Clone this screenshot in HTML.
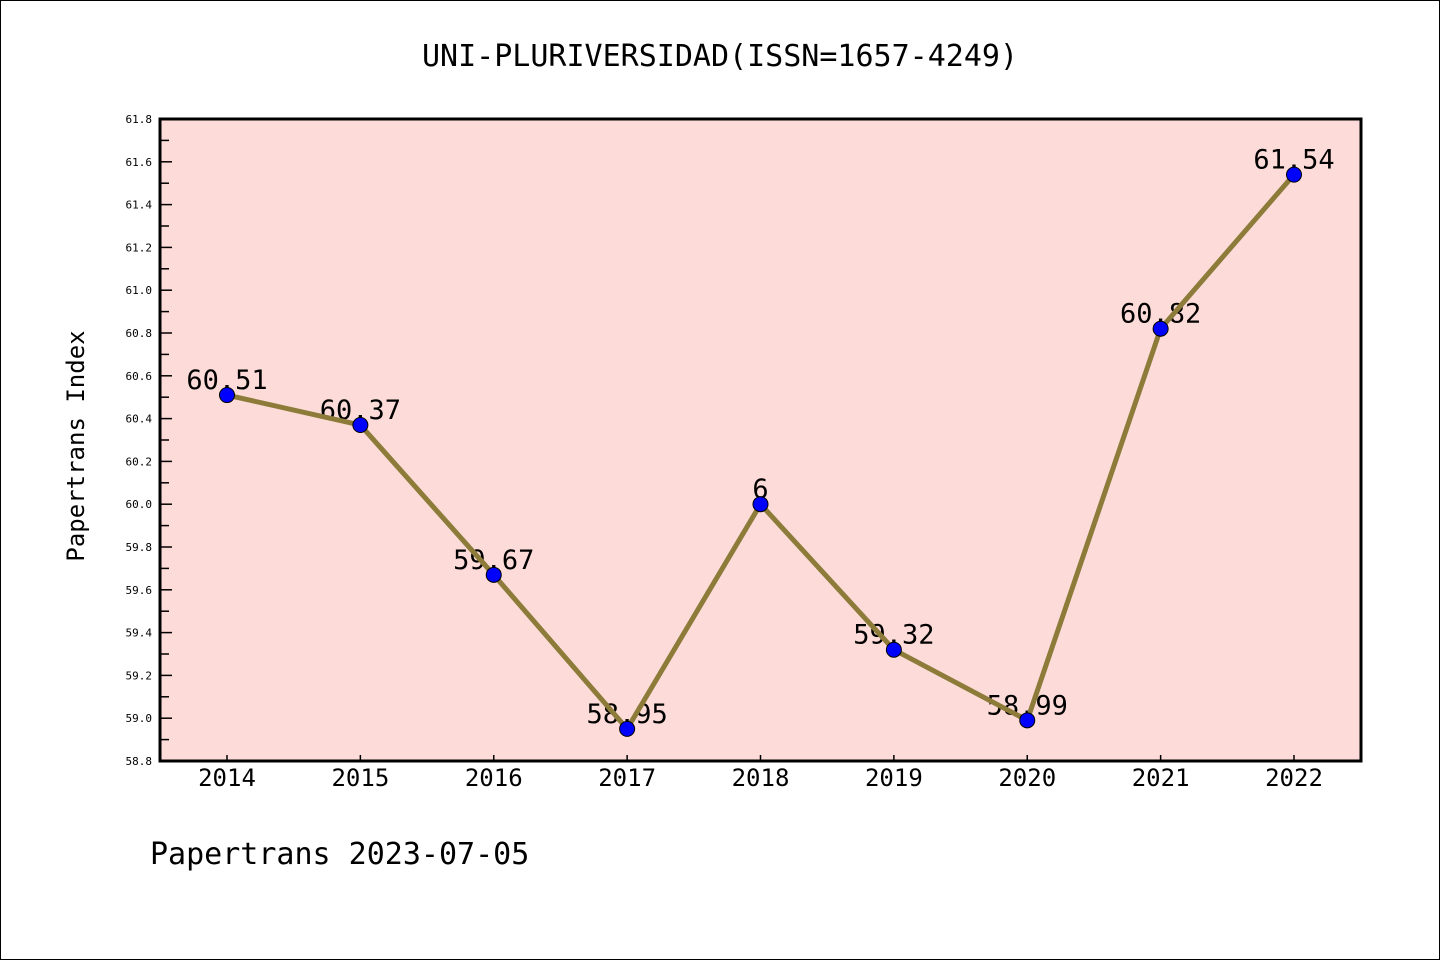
<!DOCTYPE html>
<html><head><meta charset="utf-8"><style>
html,body{margin:0;padding:0;background:#fff}
svg{display:block}
text{font-family:"WenQuanYi Zen Hei","DejaVu Sans Mono",monospace}
</style></head><body>
<svg id="chart" width="1440" height="960" xmlns="http://www.w3.org/2000/svg">
<rect x="0.5" y="0.5" width="1439" height="959" fill="#fff" stroke="#000"/>
<text x="720" y="66" font-size="30" text-anchor="middle">UNI-PLURIVERSIDAD(ISSN=1657-4249)</text>
<rect x="160" y="119" width="1201" height="642" fill="#fddbd8"/>
<g id="ticks"></g>
<g id="labels"></g>
<g id="series"></g>
<rect x="160" y="119" width="1201" height="642" fill="none" stroke="#000" stroke-width="3"/>
<text transform="translate(84,446) rotate(-90)" font-size="24" text-anchor="middle">Papertrans Index</text>
<text x="150" y="864" font-size="30">Papertrans 2023-07-05</text>
</svg>
<script>
const years=["2014","2015","2016","2017","2018","2019","2020","2021","2022"];
const values=[60.51,60.37,59.67,58.95,60.0,59.32,58.99,60.82,61.54];
const valueLabels=["60.51","60.37","59.67","58.95","6","59.32","58.99","60.82","61.54"];
const yTicks=["58.8","59.0","59.2","59.4","59.6","59.8","60.0","60.2","60.4","60.6","60.8","61.0","61.2","61.4","61.6","61.8"];
const yMin=58.8,yMax=61.8;
const NS="http://www.w3.org/2000/svg";
const X=i=>227+i*(1294-227)/(years.length-1);
const Y=v=>761-(v-yMin)/(yMax-yMin)*642;
function mk(t,a,p){const e=document.createElementNS(NS,t);for(const k in a)e.setAttribute(k,a[k]);p.appendChild(e);return e;}
const tk=document.getElementById('ticks'),lb=document.getElementById('labels'),sr=document.getElementById('series');
yTicks.forEach((s,i)=>{const v=parseFloat(s),y=Y(v);
 const l=mk('line',{x1:160,x2:172,y1:y,y2:y,stroke:'#000','stroke-width':1.5},tk);
 
 
 const t=mk('text',{x:152,y:y+4,'font-size':11,'text-anchor':'end'},tk);t.textContent=s;
 
 
 if(i<yTicks.length-1){const ym=Y(v+0.1);const m=mk('line',{x1:160,x2:169,y1:ym,y2:ym,stroke:'#000','stroke-width':1.5},tk);
 
 }
});
years.forEach((s,i)=>{const x=X(i);
 const l=mk('line',{x1:x,x2:x,y1:761,y2:755,stroke:'#000','stroke-width':1.5},tk);
 
 
 const t=mk('text',{x:x,y:786,'font-size':24,'text-anchor':'middle'},tk);t.textContent=s;
 
 
 const v=mk('text',{x:x,y:Y(values[i])-6,'font-size':27,'text-anchor':'middle'},lb);v.textContent=valueLabels[i];
 
 
});
const pl=mk('polyline',{points:values.map((v,i)=>X(i)+','+Y(v)).join(' '),fill:'none',stroke:'#8c7b39','stroke-width':5,'stroke-linejoin':'round'},sr);


values.forEach((v,i)=>{const c=mk('circle',{cx:X(i),cy:Y(v),r:7.5,fill:'#0000ff',stroke:'#000','stroke-width':1},sr);
 
 });
</script>
</body></html>
